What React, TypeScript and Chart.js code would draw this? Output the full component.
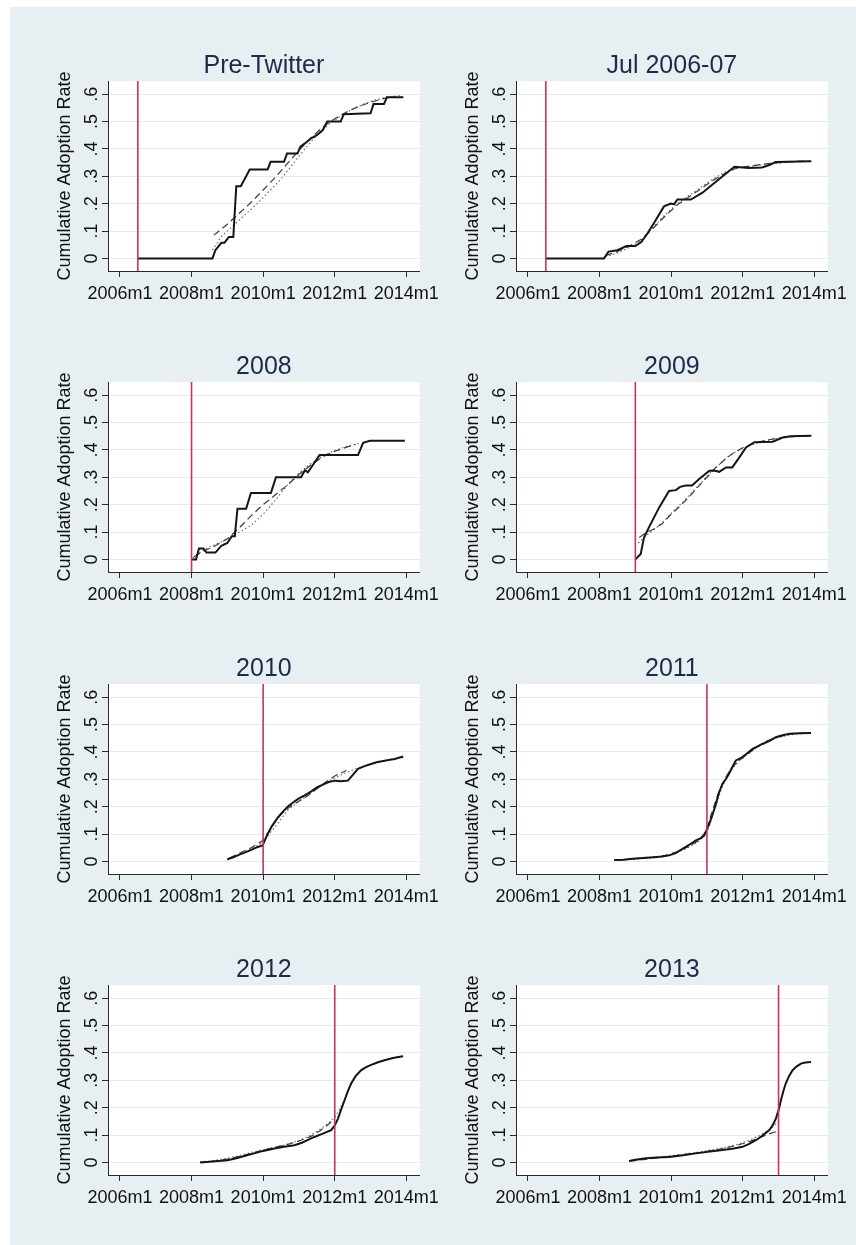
import React, { useEffect, useRef } from "react";
import { Chart, registerables } from "chart.js";

Chart.register(...registerables);

// ---------- data (x = months since 2006m1) ----------
const panelTitles = ["Pre-Twitter", "Jul 2006-07", "2008", "2009", "2010", "2011", "2012", "2013"];
const treatMonths = [6, 6, 24, 36, 48, 60, 72, 84];
const xTickValues = [0, 24, 48, 72, 96];
const xTickLabels = ["2006m1", "2008m1", "2010m1", "2012m1", "2014m1"];
const yTickValues = [0, 0.1, 0.2, 0.3, 0.4, 0.5, 0.6];
const yTickLabels = ["0", ".1", ".2", ".3", ".4", ".5", ".6"];
const yAxisTitle = "Cumulative Adoption Rate";

type Pt = [number, number];

const preTwitterActual: Pt[] = [[6, 0], [31, 0], [32, 0.03], [34, 0.057], [35, 0.057], [36.5, 0.078], [38, 0.078], [39, 0.264], [40.5, 0.264], [42, 0.294], [43.5, 0.325], [49.5, 0.325], [50.5, 0.353], [55, 0.353], [56, 0.383], [59.5, 0.383], [60.5, 0.408], [62, 0.42], [64, 0.438], [66, 0.45], [68, 0.469], [69.5, 0.5], [74, 0.5], [75, 0.527], [84, 0.53], [85, 0.564], [88.5, 0.564], [89.5, 0.589], [95, 0.589]];
const preTwitterFitA: Pt[] = [[31.5, 0.085], [36, 0.125], [40, 0.165], [44, 0.205], [48, 0.25], [52, 0.295], [56, 0.345], [60, 0.395], [64, 0.44], [68, 0.48], [72, 0.51], [76, 0.535], [80, 0.555], [84, 0.57], [88, 0.583], [92, 0.592]];
const preTwitterFitB: Pt[] = [[31, 0.03], [34, 0.08], [38, 0.12], [42, 0.16], [46, 0.2], [50, 0.245], [54, 0.29], [58, 0.345], [62, 0.4], [66, 0.45], [70, 0.49], [74, 0.52], [78, 0.545], [82, 0.565], [86, 0.58], [90, 0.59], [94, 0.595]];

const jul0607Actual: Pt[] = [[6, 0], [25.5, 0], [27, 0.025], [30, 0.03], [33, 0.045], [36, 0.045], [38, 0.06], [40, 0.09], [42.3, 0.13], [45.6, 0.19], [47.9, 0.2], [49, 0.198], [50.1, 0.215], [54.6, 0.215], [58.5, 0.24], [63, 0.28], [66.4, 0.31], [69.2, 0.335], [74, 0.33], [78.5, 0.332], [80.7, 0.34], [83, 0.352], [95, 0.355]];
const jul0607FitA: Pt[] = [[26, 0.01], [30, 0.025], [34, 0.045], [38, 0.07], [42, 0.11], [46, 0.155], [50, 0.195], [54, 0.225], [58, 0.255], [62, 0.285], [66, 0.31], [70, 0.33], [76, 0.34], [82, 0.348], [88, 0.353], [94, 0.356]];
const jul0607FitB: Pt[] = [[26, 0.005], [30, 0.02], [34, 0.04], [38, 0.065], [42, 0.115], [46, 0.16], [50, 0.2], [54, 0.23], [58, 0.26], [62, 0.29], [66, 0.315], [70, 0.33], [76, 0.338], [82, 0.346], [88, 0.352], [94, 0.355]];

const y2008Actual: Pt[] = [[24, 0], [25.5, 0], [26.5, 0.04], [28, 0.04], [29, 0.025], [32, 0.025], [34, 0.05], [36, 0.06], [37.5, 0.085], [38.5, 0.085], [39.4, 0.185], [42.3, 0.185], [43.9, 0.243], [50.6, 0.243], [52.3, 0.3], [60.7, 0.3], [62, 0.326], [63, 0.318], [64.5, 0.342], [66.9, 0.381], [79.8, 0.381], [81.5, 0.426], [83.8, 0.433], [95.5, 0.433]];
const y2008FitA: Pt[] = [[24.8, 0.01], [28, 0.03], [32, 0.05], [36, 0.075], [40, 0.115], [44, 0.16], [48, 0.2], [52, 0.235], [56, 0.27], [60, 0.31], [64, 0.345], [68, 0.375], [72, 0.395], [76, 0.41], [79, 0.42]];
const y2008FitB: Pt[] = [[24.5, 0.005], [28, 0.035], [32, 0.055], [36, 0.075], [40, 0.1], [44, 0.125], [48, 0.165], [52, 0.215], [56, 0.27], [60, 0.315], [64, 0.35], [68, 0.378], [72, 0.398], [76, 0.413], [80, 0.423]];

const y2009Actual: Pt[] = [[36, 0], [37.8, 0.02], [38.9, 0.08], [40.6, 0.118], [44, 0.19], [47.3, 0.25], [49.6, 0.253], [51, 0.265], [52.9, 0.27], [55, 0.27], [57.4, 0.294], [60.8, 0.324], [62.5, 0.325], [64.1, 0.32], [66.4, 0.336], [68.5, 0.336], [70.8, 0.372], [73.1, 0.409], [75.9, 0.428], [82, 0.43], [85.4, 0.445], [88, 0.45], [95, 0.452]];
const y2009FitA: Pt[] = [[37.3, 0.08], [40, 0.1], [42, 0.11], [45, 0.13], [48, 0.165], [51, 0.195], [54, 0.228], [57, 0.265], [60, 0.3], [63, 0.336], [66, 0.365], [69, 0.39], [72, 0.408], [76, 0.425], [80, 0.436], [85, 0.445], [90, 0.45], [95, 0.452]];
const y2009FitB: Pt[] = [[37, 0.06], [40, 0.09], [43, 0.115], [46, 0.145], [49, 0.18], [52, 0.21], [55, 0.245], [58, 0.28], [61, 0.315], [64, 0.345], [67, 0.375], [70, 0.395], [74, 0.415], [78, 0.43], [83, 0.44], [88, 0.448], [95, 0.452]];

const y2010Actual: Pt[] = [[36, 0.008], [38, 0.015], [40, 0.025], [42, 0.033], [44, 0.042], [46, 0.052], [47.8, 0.058], [49.5, 0.1], [51, 0.13], [52.9, 0.16], [54.5, 0.18], [56.2, 0.2], [58, 0.215], [60, 0.23], [61.8, 0.24], [64, 0.255], [66, 0.27], [68.6, 0.283], [70, 0.29], [72, 0.295], [74, 0.293], [76.4, 0.295], [78, 0.315], [79.8, 0.338], [82, 0.348], [84.2, 0.356], [86, 0.362], [88.7, 0.368], [90, 0.37], [92.1, 0.374], [94.9, 0.383]];
const y2010FitA: Pt[] = [[36.7, 0.012], [40, 0.03], [44, 0.05], [47.8, 0.075], [50, 0.11], [52, 0.145], [54, 0.172], [57, 0.2], [60, 0.22], [63, 0.24], [66, 0.265], [69, 0.29], [72, 0.312], [75.9, 0.332]];
const y2010FitB: Pt[] = [[36, 0.005], [40, 0.025], [44, 0.045], [48, 0.07], [50, 0.1], [53, 0.14], [56, 0.185], [60, 0.22], [64, 0.25], [68, 0.28], [72, 0.305], [76, 0.325], [80, 0.342], [84, 0.355], [88, 0.366], [92, 0.375], [95, 0.38]];

const y2011Actual: Pt[] = [[28.9, 0.005], [32, 0.006], [35, 0.01], [38.4, 0.012], [42, 0.015], [45, 0.018], [47.3, 0.022], [49.5, 0.03], [51.8, 0.046], [54, 0.06], [56.3, 0.077], [58, 0.085], [59.1, 0.095], [60.8, 0.138], [62, 0.175], [63, 0.21], [64, 0.25], [65.2, 0.283], [66.3, 0.3], [67.4, 0.32], [68.5, 0.345], [69.7, 0.369], [71.9, 0.381], [73.5, 0.395], [75.3, 0.411], [77, 0.42], [78.6, 0.429], [81, 0.44], [83.1, 0.454], [85, 0.46], [87.6, 0.466], [91, 0.468], [94.9, 0.469]];
const y2011FitA: Pt[] = [[30, 0.005], [36, 0.01], [42, 0.015], [46, 0.022], [50, 0.035], [54, 0.055], [57, 0.075], [59, 0.1], [60.5, 0.14], [62, 0.19], [63.5, 0.24], [65, 0.28], [67, 0.32], [69, 0.35], [71, 0.37], [74, 0.395], [77, 0.42], [80, 0.44], [84, 0.455], [88, 0.465], [94, 0.47]];
const y2011FitB: Pt[] = [[30, 0.004], [36, 0.008], [42, 0.013], [46, 0.02], [50, 0.032], [54, 0.052], [57, 0.072], [59, 0.09], [60.5, 0.12], [62, 0.17], [63.5, 0.22], [65, 0.27], [67, 0.315], [69, 0.345], [71, 0.37], [74, 0.395], [77, 0.418], [80, 0.438], [84, 0.453], [88, 0.463], [94, 0.469]];

const y2012Actual: Pt[] = [[26.9, 0], [30, 0.002], [33, 0.005], [36.1, 0.008], [39, 0.015], [42, 0.024], [45, 0.033], [48, 0.042], [51.8, 0.051], [55, 0.057], [58.5, 0.063], [61, 0.072], [63, 0.082], [65.2, 0.093], [68, 0.105], [70.8, 0.118], [72, 0.135], [73.1, 0.16], [74.2, 0.195], [75.3, 0.227], [76.4, 0.26], [77.5, 0.288], [79, 0.315], [80.9, 0.337], [82.5, 0.348], [84.2, 0.356], [86.5, 0.366], [88.7, 0.373], [91.5, 0.381], [94.9, 0.388]];
const y2012FitA: Pt[] = [[27, 0], [32, 0.005], [36, 0.012], [40, 0.022], [44, 0.033], [48, 0.045], [52, 0.055], [56, 0.065], [60, 0.078], [64, 0.095], [67, 0.115], [70, 0.14], [72, 0.16]];
const y2012FitB: Pt[] = [[27, 0.002], [32, 0.008], [36, 0.015], [40, 0.025], [44, 0.036], [48, 0.046], [52, 0.056], [56, 0.066], [60, 0.08], [64, 0.1], [67, 0.12], [70, 0.145], [72, 0.165], [74, 0.2], [76, 0.25], [78, 0.3], [80, 0.33], [83, 0.35], [86, 0.365], [90, 0.378], [95, 0.39]];

const y2013Actual: Pt[] = [[33.9, 0.005], [36, 0.01], [39.5, 0.015], [43, 0.018], [47.3, 0.02], [52, 0.026], [56.3, 0.033], [61, 0.04], [65.2, 0.045], [69, 0.051], [71.9, 0.057], [74, 0.067], [76.4, 0.081], [78.5, 0.097], [80.9, 0.118], [82, 0.135], [83.1, 0.16], [84, 0.19], [84.8, 0.227], [85.6, 0.26], [86.4, 0.288], [87.5, 0.315], [88.7, 0.337], [90, 0.35], [91.5, 0.361], [93, 0.365], [94.9, 0.367]];
const y2013FitA: Pt[] = [[34, 0.005], [40, 0.012], [46, 0.02], [52, 0.028], [58, 0.037], [64, 0.048], [70, 0.062], [74, 0.075], [78, 0.092], [81, 0.105], [84, 0.115]];
const y2013FitB: Pt[] = [[34, 0.004], [40, 0.013], [46, 0.021], [52, 0.03], [58, 0.039], [64, 0.05], [70, 0.065], [74, 0.08], [78, 0.1], [81, 0.12], [84, 0.15]];

const actualSeries = [preTwitterActual, jul0607Actual, y2008Actual, y2009Actual, y2010Actual, y2011Actual, y2012Actual, y2013Actual];
const fitASeries = [preTwitterFitA, jul0607FitA, y2008FitA, y2009FitA, y2010FitA, y2011FitA, y2012FitA, y2013FitA];
const fitBSeries = [preTwitterFitB, jul0607FitB, y2008FitB, y2009FitB, y2010FitB, y2011FitB, y2012FitB, y2013FitB];

// ---------- layout / style ----------
const X_MIN = -4;
const X_MAX = 100.5;
const Y_MIN = -0.046;
const Y_MAX = 0.648;
const COL_LEFT = [108, 516];
const ROW_TOP = [81, 382, 684, 985];
const PLOT_W = 312;
const PLOT_H = 190;
const AXIS_W = 60;
const TITLE_H = 44;
const BOTTOM_H = 40;
const RIGHT_PAD = 26;
const FONT = "'Liberation Sans', Arial, Helvetica, sans-serif";
const AXIS_COLOR = "#2a2a2a";
const GRID_COLOR = "#e3ebee";
const BG_COLOR = "#e8eff2";
const RED = "#c8325e";

const plotBgPlugin = {
  id: "plotBg",
  beforeDraw(chart: any) {
    const { ctx, chartArea } = chart;
    ctx.save();
    ctx.fillStyle = "#ffffff";
    ctx.fillRect(chartArea.left, chartArea.top, chartArea.right - chartArea.left, chartArea.bottom - chartArea.top);
    ctx.restore();
  },
};

const yLabelPlugin = {
  id: "yLabels",
  afterDraw(chart: any) {
    const { ctx, chartArea } = chart;
    const scale = chart.scales.y;
    ctx.save();
    ctx.font = `18px ${FONT}`;
    ctx.fillStyle = "#111";
    ctx.textAlign = "center";
    ctx.textBaseline = "middle";
    yTickValues.forEach((v, i) => {
      const py = scale.getPixelForValue(v);
      ctx.save();
      ctx.translate(chartArea.left - 16, py);
      ctx.rotate(-Math.PI / 2);
      ctx.fillText(yTickLabels[i], 0, 0);
      ctx.restore();
    });
    ctx.restore();
  },
};

function Panel({ idx }: { idx: number }) {
  const ref = useRef<HTMLCanvasElement>(null);
  const col = idx % 2;
  const row = Math.floor(idx / 2);
  const W = AXIS_W + PLOT_W + RIGHT_PAD;
  const H = TITLE_H + PLOT_H + BOTTOM_H;
  const left = COL_LEFT[col] - AXIS_W;
  const top = ROW_TOP[row] - TITLE_H;

  useEffect(() => {
    if (!ref.current) return;
    const toXY = (a: Pt[]) => a.map(([x, y]) => ({ x, y }));
    const chart = new Chart(ref.current, {
      type: "line",
      data: {
        datasets: [
          {
            data: [{ x: treatMonths[idx], y: Y_MIN }, { x: treatMonths[idx], y: Y_MAX }],
            borderColor: RED,
            borderWidth: 1.6,
            pointRadius: 0,
          },
          {
            data: toXY(actualSeries[idx]),
            borderColor: "#151515",
            borderWidth: 2,
            pointRadius: 0,
          },
          {
            data: toXY(fitASeries[idx]),
            borderColor: "#3c3c3c",
            borderWidth: 1.2,
            borderDash: [7, 4],
            pointRadius: 0,
          },
          {
            data: toXY(fitBSeries[idx]),
            borderColor: "#707070",
            borderWidth: 1.2,
            borderDash: [1.5, 2.5],
            pointRadius: 0,
          },
        ],
      } as any,
      options: {
        animation: false,
        responsive: false,
        maintainAspectRatio: false,
        devicePixelRatio: 1,
        layout: { padding: { left: 0, right: RIGHT_PAD, top: 0, bottom: 0 } },
        plugins: {
          legend: { display: false },
          tooltip: { enabled: false },
          title: {
            display: true,
            text: panelTitles[idx],
            fullSize: false,
            color: "#1d2b47",
            font: { family: FONT, size: 25, weight: "normal" },
            padding: { top: 14, bottom: 0 },
          },
        },
        scales: {
          x: {
            type: "linear",
            min: X_MIN,
            max: X_MAX,
            afterBuildTicks: (s: any) => {
              s.ticks = xTickValues.map((v) => ({ value: v }));
            },
            afterFit: (s: any) => {
              s.height = BOTTOM_H;
            },
            ticks: {
              autoSkip: false,
              maxRotation: 0,
              minRotation: 0,
              padding: 6,
              color: "#111",
              font: { family: FONT, size: 18 },
              callback: (v: any) => {
                const i = xTickValues.indexOf(Number(v));
                return i >= 0 ? xTickLabels[i] : "";
              },
            },
            grid: { drawOnChartArea: false, drawTicks: true, tickLength: 6, tickColor: AXIS_COLOR },
            border: { display: true, color: AXIS_COLOR, width: 1 },
          },
          y: {
            type: "linear",
            min: Y_MIN,
            max: Y_MAX,
            afterBuildTicks: (s: any) => {
              s.ticks = yTickValues.map((v) => ({ value: v }));
            },
            afterFit: (s: any) => {
              s.width = AXIS_W;
            },
            ticks: { display: false },
            grid: { color: GRID_COLOR, lineWidth: 1, drawTicks: true, tickLength: 6, tickColor: AXIS_COLOR },
            border: { display: true, color: AXIS_COLOR, width: 1 },
            title: {
              display: true,
              text: yAxisTitle,
              color: "#111",
              font: { family: FONT, size: 18 },
              padding: { top: 6, bottom: 0 },
            },
          },
        },
      } as any,
      plugins: [plotBgPlugin, yLabelPlugin],
    });
    return () => chart.destroy();
  }, [idx]);

  return (
    <canvas
      ref={ref}
      width={W}
      height={H}
      style={{ position: "absolute", left, top, width: W, height: H }}
    />
  );
}

export default function App() {
  return (
    <div>
      <div
        style={{
          position: "absolute",
          left: 10,
          top: 7,
          width: 846,
          height: 1238,
          background: BG_COLOR,
        }}
      />
      {panelTitles.map((_, i) => (
        <Panel key={i} idx={i} />
      ))}
    </div>
  );
}
